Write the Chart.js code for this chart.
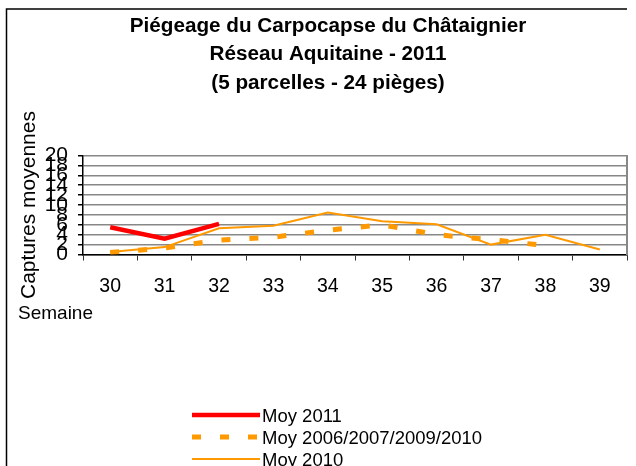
<!DOCTYPE html>
<html>
<head>
<meta charset="utf-8">
<script src="https://cdn.jsdelivr.net/npm/chart.js@4/dist/chart.umd.min.js"></script>
<style>
  html, body { margin: 0; padding: 0; background: #fff; }
  #wrap { width: 636px; height: 466px; position: relative; }
</style>
</head>
<body>
<div id="wrap"><canvas id="c" width="636" height="466"></canvas></div>
<script>
const weeks = ['30', '31', '32', '33', '34', '35', '36', '37', '38', '39'];
const moy2011 = [5.5, 3.2, 6.2, null, null, null, null, null, null, null];
const moyAvg = [0.4, 1.3, 2.9, 3.5, 4.9, 6.0, 4.0, 3.0, 1.8, null];
const moy2010 = [0.5, 1.5, 5.3, 5.8, 8.5, 6.7, 6.1, 2.0, 4.0, 1.0];
const seriesNames = ['Moy 2011', 'Moy 2006/2007/2009/2010', 'Moy 2010'];
const titleLines = ['Piégeage du Carpocapse du Châtaignier', 'Réseau Aquitaine - 2011', '(5 parcelles - 24 pièges)'];
const yTitle = 'Captures moyennes';
const xTitle = 'Semaine';
const yMin = 0, yMax = 20, yStep = 2;

const FONT = 'Arial, "Liberation Sans", sans-serif';

const framePlugin = {
  id: 'frame',
  beforeDraw(chart) {
    const ctx = chart.ctx;
    ctx.save();
    ctx.fillStyle = '#fff';
    ctx.fillRect(0, 0, chart.width, chart.height);
    ctx.strokeStyle = '#000';
    ctx.lineWidth = 1.5;
    ctx.beginPath();
    ctx.moveTo(627, 9);
    ctx.lineTo(6.5, 9);
    ctx.lineTo(6.5, chart.height + 2);
    ctx.stroke();
    ctx.restore();
  }
};

const extrasPlugin = {
  id: 'extras',
  afterDraw(chart) {
    const ctx = chart.ctx;
    ctx.save();
    // x axis title, left aligned
    ctx.fillStyle = '#000';
    ctx.font = '19px ' + FONT;
    ctx.textAlign = 'left';
    ctx.textBaseline = 'middle';
    ctx.fillText(xTitle, 18, 314);
    // legend
    const rows = [415, 437, 459];
    chart.data.datasets.forEach((ds, i) => {
      const y = rows[i];
      ctx.save();
      ctx.strokeStyle = ds.borderColor;
      ctx.lineWidth = ds.borderWidth;
      ctx.setLineDash(ds.borderDash || []);
      ctx.lineCap = 'butt';
      ctx.beginPath();
      ctx.moveTo(192, y);
      ctx.lineTo(260, y);
      ctx.stroke();
      ctx.restore();
      ctx.fillStyle = '#000';
      ctx.font = '18.5px ' + FONT;
      ctx.textAlign = 'left';
      ctx.textBaseline = 'middle';
      ctx.fillText(ds.label, 262, y + 1.5);
    });
    ctx.restore();
  }
};

new Chart(document.getElementById('c'), {
  type: 'line',
  data: {
    labels: weeks,
    datasets: [
      { label: seriesNames[0], data: moy2011, borderColor: '#ff0000', borderWidth: 4.5, pointRadius: 0, spanGaps: false, order: 0 },
      { label: seriesNames[1], data: moyAvg, borderColor: '#ff9900', borderWidth: 5, borderDash: [9, 19], pointRadius: 0, order: 1 },
      { label: seriesNames[2], data: moy2010, borderColor: '#ff9900', borderWidth: 2, pointRadius: 0, order: 2 }
    ]
  },
  options: {
    responsive: false,
    animation: false,
    devicePixelRatio: 1,
    layout: { padding: { left: 29, right: 9, top: 0, bottom: 171.5 } },
    plugins: {
      legend: { display: false },
      tooltip: { enabled: false },
      title: {
        display: true,
        text: titleLines,
        color: '#000',
        font: { family: FONT, size: 20.7, weight: 'bold', lineHeight: 1.377 },
        padding: { top: 12, bottom: 58 }
      }
    },
    scales: {
      x: {
        offset: true,
        grid: { display: true, offset: true, drawOnChartArea: false, drawTicks: true, tickLength: 6, tickColor: '#333', color: '#333' },
        border: { display: true, color: '#000', width: 1.5 },
        ticks: { color: '#000', font: { family: FONT, size: 19.5 }, padding: 14, maxRotation: 0, autoSkip: false },
        afterFit(s) { s.height = 40; }
      },
      y: {
        min: yMin, max: yMax,
        ticks: { stepSize: yStep, color: '#000', font: { family: FONT, size: 21 }, padding: 10, autoSkip: false },
        grid: { color: '#888', lineWidth: 1.5, tickLength: 5, tickColor: '#000' },
        border: { display: true, color: '#000', width: 1.5 },
        title: { display: true, text: yTitle, color: '#000', font: { family: FONT, size: 21 }, padding: { top: -12, bottom: 0 } },
        afterFit(s) { s.width = 54; }
      },
      y2: {
        position: 'right',
        min: yMin, max: yMax,
        ticks: { display: false },
        grid: { drawOnChartArea: false, drawTicks: false },
        border: { display: true, color: '#888', width: 2 },
        afterFit(s) { s.width = 0; }
      }
    }
  },
  plugins: [framePlugin, extrasPlugin]
});
</script>
</body>
</html>
